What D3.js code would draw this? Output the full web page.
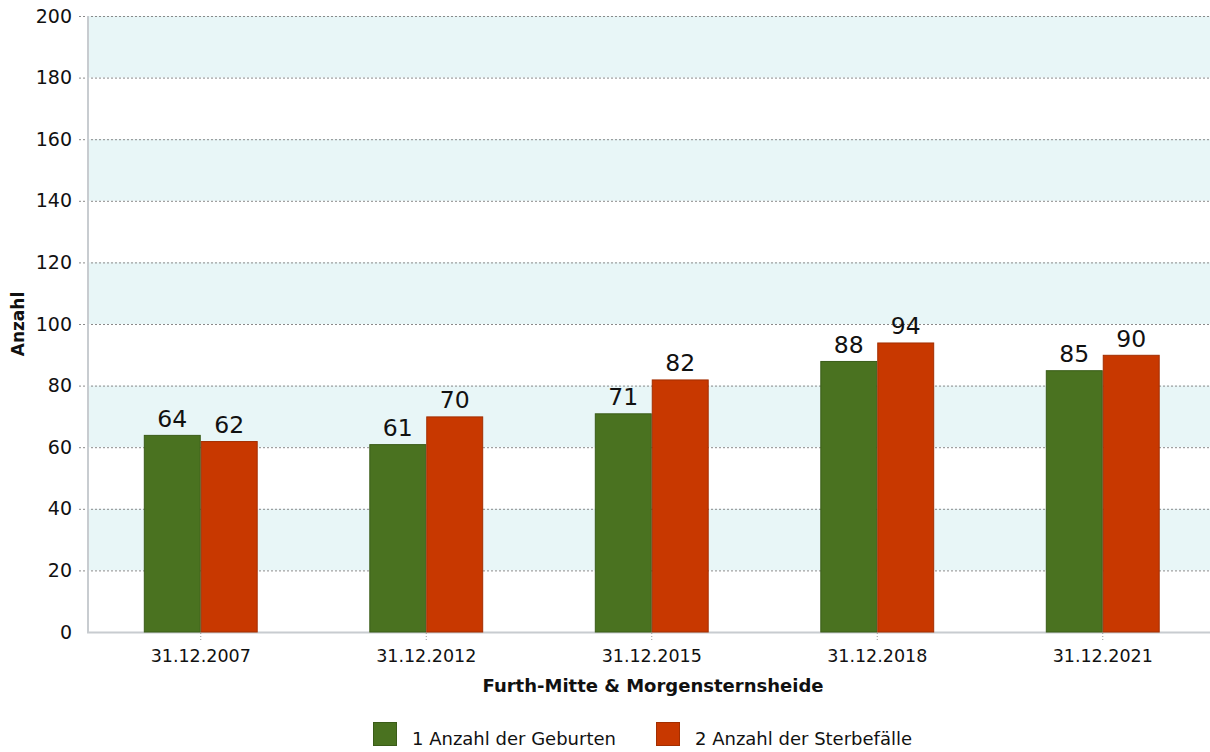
<!DOCTYPE html>
<html>
<head>
<meta charset="utf-8">
<script src="https://cdn.jsdelivr.net/npm/d3@7"></script>
<style>
  body { margin: 0; background: #fff; }
  svg { display: block; font-family: 'DejaVu Sans', Verdana, sans-serif; }
</style>
</head>
<body>
<svg id="chart" width="1210" height="752"></svg>
<script>
// chart data
const categories = ['31.12.2007', '31.12.2012', '31.12.2015', '31.12.2018', '31.12.2021']
const seriesNames = ['1 Anzahl der Geburten', '2 Anzahl der Sterbefälle']
const geburten = [64, 61, 71, 88, 85]
const sterbefaelle = [62, 70, 82, 94, 90]
const yTicks = [0, 20, 40, 60, 80, 100, 120, 140, 160, 180, 200]
const bandRanges = [[20, 40], [60, 80], [100, 120], [140, 160], [180, 200]]

const colors = ['#4a7220', '#c83800']
const strokes = ['#3a5c18', '#a32e00']

const svg = d3.select('#chart')
const plotLeft = 88
const plotRight = 1215.5
const plotTop = 16
const plotBottom = 632

const x = d3.scaleBand().domain(categories).range([plotLeft, plotRight]).paddingInner(0).paddingOuter(0)
const inner = d3.scaleBand().domain([0, 1]).range([0, x.bandwidth()]).paddingInner(0).paddingOuter(0.98)
const y = d3.scaleLinear().domain([0, 200]).range([plotBottom, plotTop])

// shaded bands
svg.append('g').selectAll('rect')
  .data(bandRanges)
  .enter().append('rect')
  .attr('x', plotLeft)
  .attr('width', 1210 - plotLeft)
  .attr('y', d => y(d[1]))
  .attr('height', d => y(d[0]) - y(d[1]))
  .attr('fill', '#e8f6f7')

// gridlines + y labels
const yAxis = svg.append('g')
  .attr('transform', `translate(${plotLeft},0)`)
  .call(d3.axisLeft(y).tickValues(yTicks).tickSize(-(1210 - plotLeft)).tickPadding(16))
yAxis.select('.domain').remove()
yAxis.selectAll('.tick line')
  .attr('x1', -9)
  .attr('stroke', '#8a8a8a')
  .attr('stroke-dasharray', '2,2')
  .attr('stroke-width', 1)
yAxis.selectAll('.tick')
  .filter(d => d === 0)
  .select('line').remove()
yAxis.selectAll('.tick text')
  .attr('font-size', 19)
  .attr('fill', '#111')
  .attr('font-family', "'DejaVu Sans', Verdana, sans-serif")

// axis lines
svg.append('line')
  .attr('x1', plotLeft).attr('x2', plotLeft)
  .attr('y1', plotTop).attr('y2', plotBottom)
  .attr('stroke', '#c8ccd0').attr('stroke-width', 2)
svg.append('line')
  .attr('x1', plotLeft - 1).attr('x2', 1210)
  .attr('y1', plotBottom + 0.5).attr('y2', plotBottom + 0.5)
  .attr('stroke', '#c8ccd0').attr('stroke-width', 2)

// x axis labels + small dotted ticks
const xAxis = svg.append('g')
  .attr('transform', `translate(0,${plotBottom + 1})`)
  .call(d3.axisBottom(x).tickSize(8).tickPadding(9))
xAxis.select('.domain').remove()
xAxis.selectAll('.tick line')
  .attr('stroke', '#999')
  .attr('stroke-dasharray', '1,2')
xAxis.selectAll('.tick text')
  .attr('font-size', 17.5)
  .attr('fill', '#111')
  .attr('font-family', "'DejaVu Sans', Verdana, sans-serif")

// bars
const series = [geburten, sterbefaelle]
series.forEach((vals, si) => {
  const g = svg.append('g')
  g.selectAll('rect')
    .data(vals)
    .enter().append('rect')
    .attr('x', (d, i) => x(categories[i]) + inner(si) + 0.5)
    .attr('width', inner.bandwidth() - 1)
    .attr('y', d => y(d) + 0.5)
    .attr('height', d => y(0) - y(d) - 0.5)
    .attr('fill', colors[si])
    .attr('stroke', strokes[si])
    .attr('stroke-width', 1)
  g.selectAll('text')
    .data(vals)
    .enter().append('text')
    .attr('x', (d, i) => x(categories[i]) + inner(si) + inner.bandwidth() / 2)
    .attr('y', d => y(d) - 8)
    .attr('text-anchor', 'middle')
    .attr('font-size', 23.5)
    .attr('fill', '#111')
    .text(d => d)
})

// axis titles
svg.append('text')
  .attr('transform', 'translate(24,324) rotate(-90)')
  .attr('text-anchor', 'middle')
  .attr('font-size', 17)
  .attr('font-weight', 'bold')
  .attr('fill', '#111')
  .text('Anzahl')

svg.append('text')
  .attr('x', 653)
  .attr('y', 692)
  .attr('text-anchor', 'middle')
  .attr('font-size', 18)
  .attr('font-weight', 'bold')
  .attr('fill', '#111')
  .text('Furth-Mitte & Morgensternsheide')

// legend
const legendX = [373, 656]
const legend = svg.append('g')
seriesNames.forEach((name, i) => {
  legend.append('rect')
    .attr('x', legendX[i] + 0.5).attr('y', 722.5)
    .attr('width', 23).attr('height', 23)
    .attr('fill', colors[i]).attr('stroke', strokes[i])
  legend.append('text')
    .attr('x', legendX[i] + 39).attr('y', 745)
    .attr('font-size', 18)
    .attr('fill', '#111')
    .text(name)
})
</script>
</body>
</html>
